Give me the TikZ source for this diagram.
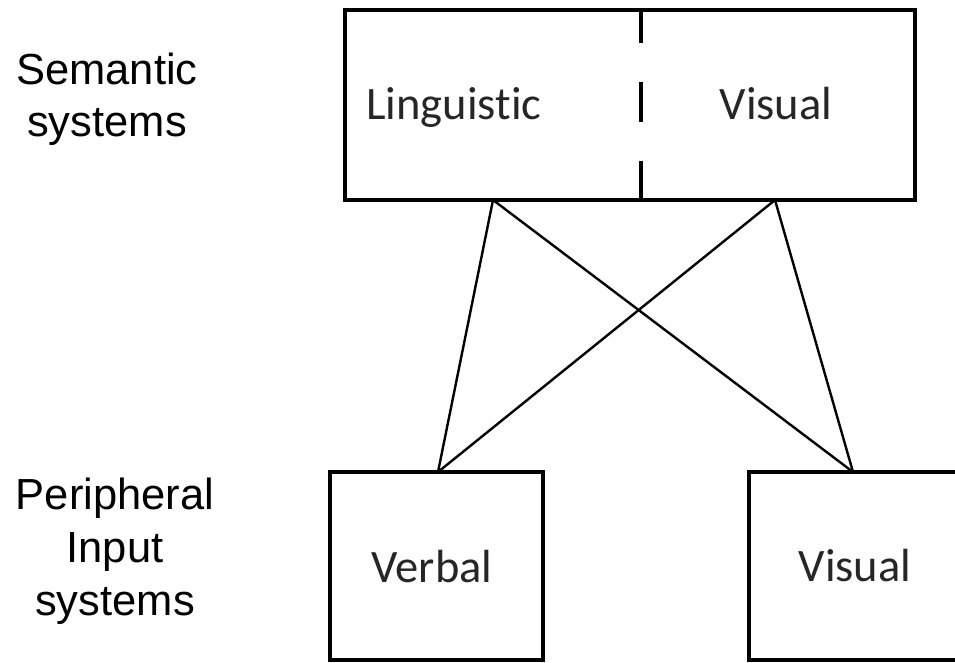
\documentclass[tikz,border=0pt]{standalone}
\usepackage{fontspec}
\setmainfont{Carlito}[RawFeature={-liga;-clig;-dlig}]
\newfontfamily\arialfont{Liberation Sans}
\definecolor{boxtext}{HTML}{262626}
\begin{document}
\begin{tikzpicture}[x=1pt,y=-1pt,
  boxshape/.style={draw=black,line width=4pt,inner sep=0pt,minimum width=#1},
  boxlabel/.style={anchor=base,text=boxtext,inner sep=0pt,font=\fontsize{46.5}{56}\selectfont},
  sidelabel/.style={anchor=base,align=center,inner sep=0pt,font=\arialfont\fontsize{43.5}{52.7}\selectfont},
  link/.style={draw=black,line width=2.4pt}]
\useasboundingbox (0,0) rectangle (955,663);
\fill[white] (0,0) rectangle (955,663);
% top box
\node[boxshape=570pt,minimum height=189.5pt] (sem) at (630,105.25) {};
\coordinate (dtop) at (641,10.5);
\coordinate (dbot) at (641,200);
\draw[line width=4pt,dash pattern=on 33pt off 39pt on 40pt off 39pt on 40pt off 39pt] (dtop) -- (dbot);
\node[boxlabel] (ling) at (454,120) {Linguistic};
\node[boxlabel] (svis) at (776,120) {Visual};
% bottom boxes
\node[boxshape=213pt,minimum height=188pt] (verb) at (436.5,566) {};
\node[boxshape=226pt,minimum height=188pt] (pvis) at (862,566) {};
\node[boxlabel] (verbt) at (432,582) {Verbal};
\node[boxlabel] (pvist) at (855,581) {Visual};
% connectors
\coordinate (s1) at (493,200);
\coordinate (s2) at (775,200);
\coordinate (b1) at (438,472);
\coordinate (b2) at (853,472);
\draw[link] (s1) -- (b1);
\draw[link] (s1) -- (b2);
\draw[link] (s2) -- (b1);
\draw[link] (s2) -- (b2);
% side labels (anchor base = baseline of last line)
\node[sidelabel] (semlab) at (107,137) {Semantic\\systems};
\node[sidelabel] (perlab) at (115,615) {Peripheral\\Input\\systems};
\end{tikzpicture}
\end{document}
